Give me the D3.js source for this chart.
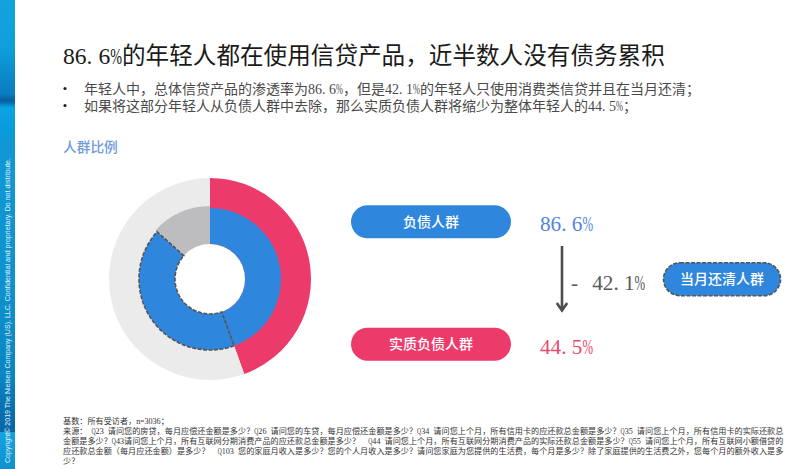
<!DOCTYPE html>
<html>
<head>
<meta charset="utf-8">
<script src="https://cdn.jsdelivr.net/npm/d3@7"></script>
<style>
  html, body { margin: 0; padding: 0; background: #fff; }
  text { font-family: "Noto Sans CJK SC", sans-serif; white-space: pre; }
</style>
</head>
<body>
<svg id="chart" width="796" height="469"></svg>
<script>
const title = "86.6%的年轻人都在使用信贷产品，近半数人没有债务累积";
const bullets = [
  "年轻人中，总体信贷产品的渗透率为86.6%，但是42.1%的年轻人只使用消费类信贷并且在当月还清；",
  "如果将这部分年轻人从负债人群中去除，那么实质负债人群将缩少为整体年轻人的44.5%；"
];
const sectionLabel = "人群比例";
const sidebarText = "Copyright© 2019 The Nielsen Company (US), LLC. Confidential and proprietary. Do not distribute.";
const footnotes = [
  "基数：所有受访者，n=3036；",
  "来源： Q23 请问您的房贷，每月应偿还金额是多少？Q26 请问您的车贷，每月应偿还金额是多少？Q34 请问您上个月，所有信用卡的应还款总金额是多少？Q35 请问您上个月，所有信用卡的实际还款总",
  "金额是多少？Q43请问您上个月，所有互联网分期消费产品的应还款总金额是多少？  Q44 请问您上个月，所有互联网分期消费产品的实际还款总金额是多少？Q55 请问您上个月，所有互联网小额借贷的",
  "应还款总金额（每月应还金额）是多少？  Q103 您的家庭月收入是多少？您的个人月收入是多少？请问您家庭为您提供的生活费，每个月是多少？除了家庭提供的生活费之外，您每个月的额外收入是多",
  "少？"
];

const outerValues = [44.5, 55.5];
const innerValues = [86.6, 13.4];
const dashedValues = [44.5, 42.1];
const debtLabel = "负债人群";
const debtValue = "86.6%";
const realLabel = "实质负债人群";
const realValue = "44.5%";
const paidLabel = "当月还清人群";
const paidValue = "- 42.1%";
const stripStops = [
  [0, "#12a2dc"], [0.1, "#0f9fdc"], [0.2, "#0a7cc0"], [0.215, "#075f9e"], [0.23, "#0ba4e4"],
  [0.28, "#0a9ada"], [0.3, "#1198d4"], [0.6, "#0e92cd"], [0.8, "#0a86c2"], [0.9, "#0869aa"],
  [0.921, "#0866a8"], [0.922, "#14a2de"], [1, "#0f90ce"]
];

const blue = "#2f86dd";
const pink = "#ec3b6b";
const svg = d3.select("#chart");

// draws text on the half/full width grid of the original font
function gridText(x, y, size, fill, str) {
  const t = svg.append("text").attr("y", y).attr("font-size", size).attr("fill", fill);
  let pos = x;
  const runs = [];
  for (const ch of str) {
    const half = ch.charCodeAt(0) < 128;
    const font = !half ? "cjk" : /[A-Za-z%=]/.test(ch) ? "wide" : "serif";
    const last = runs[runs.length - 1];
    // wide glyphs get squeezed one by one into their half width cell
    if (!last || last.font !== font || font === "wide") runs.push({ font, chars: "", xs: [] });
    const run = runs[runs.length - 1];
    run.chars += ch;
    run.xs.push(pos.toFixed(2));
    pos += half ? size / 2 : size;
  }
  runs.forEach((r) => {
    const span = t.append("tspan")
      .attr("x", r.xs.join(" "))
      .style("font-family", r.font === "cjk" ? '"Noto Sans CJK SC"' : '"Liberation Serif"')
      .text(r.chars);
    if (r.font === "wide") span.attr("textLength", size / 2).attr("lengthAdjust", "spacingAndGlyphs");
  });
  return t;
}

// left strip
const defs = svg.append("defs");
const grad = defs.append("linearGradient").attr("id", "strip").attr("x1", 0).attr("x2", 0).attr("y1", 0).attr("y2", 1);
stripStops.forEach(([o, c]) => grad.append("stop").attr("offset", o).attr("stop-color", c));
svg.append("rect").attr("width", 15).attr("height", 469).attr("fill", "url(#strip)");
svg.append("text")
  .attr("transform", "translate(9.5,463) rotate(-90)")
  .attr("font-size", 7.05)
  .attr("fill", "#e2f3fb")
  .style("font-family", "Liberation Sans")
  .text(sidebarText);

gridText(63, 64, 23.6, "#1a1a1a", title);

bullets.forEach((b, i) => {
  const y = 93.5 + i * 17;
  svg.append("circle").attr("cx", 65).attr("cy", y - 5).attr("r", 1.6).attr("fill", "#222");
  gridText(84, y, 14, "#4a4a4a", b);
});

svg.append("text")
  .attr("x", 63).attr("y", 151.5)
  .attr("font-size", 13.7)
  .attr("font-weight", 500)
  .attr("fill", "#6f9ae0")
  .text(sectionLabel);

// donut
const donut = svg.append("g").attr("transform", "translate(210,279)");
const pie = d3.pie().sort(null);
const outerArc = d3.arc().innerRadius(0).outerRadius(101);
const innerRadius = [71, 73];

donut.selectAll("path.outer")
  .data(pie(outerValues))
  .join("path")
  .attr("class", "outer")
  .attr("d", outerArc)
  .attr("fill", (d, i) => [pink, "#ebebeb"][i]);

donut.selectAll("path.inner")
  .data(pie(innerValues))
  .join("path")
  .attr("class", "inner")
  .attr("d", (d, i) => d3.arc().innerRadius(35).outerRadius(innerRadius[i])(d))
  .attr("fill", (d, i) => [blue, "#bdbdbf"][i]);

donut.append("circle").attr("r", 35).attr("fill", "#fff");

// dashed outline of the part paid off in the same month
const total = d3.sum(outerValues);
const angle = d3.scaleLinear().domain([0, total]).range([0, 2 * Math.PI]);
donut.append("path")
  .attr("d", d3.arc().innerRadius(35).outerRadius(71)({
    startAngle: angle(dashedValues[0]),
    endAngle: angle(dashedValues[0] + dashedValues[1])
  }))
  .attr("fill", "none")
  .attr("stroke", "#555")
  .attr("stroke-width", 1.6)
  .attr("stroke-dasharray", "4 1.5");

function pill(x, y, w, h, fill, label, dashed) {
  const r = svg.append("rect")
    .attr("x", x).attr("y", y).attr("width", w).attr("height", h)
    .attr("rx", h / 2).attr("fill", fill);
  if (dashed) r.attr("stroke", "#555").attr("stroke-width", 1.6).attr("stroke-dasharray", "4 1.5");
  svg.append("text")
    .attr("x", x + w / 2).attr("y", y + h / 2 + 5)
    .attr("text-anchor", "middle")
    .attr("font-size", 14)
    .attr("font-weight", 500)
    .attr("fill", "#fff")
    .text(label);
}

pill(351, 205.3, 160, 33, blue, debtLabel);
pill(351, 327.7, 160, 33, pink, realLabel);
pill(663.5, 262.7, 117, 33, blue, paidLabel, true);

gridText(540, 231.3, 21.2, "#4f86dc", debtValue);
gridText(540, 354, 21.2, "#e94a70", realValue);
gridText(571, 290, 21.2, "#595959", paidValue);

// arrow
svg.append("path")
  .attr("d", "M562,246V310.5M556.8,303L562,310.5L567.2,303")
  .attr("fill", "none")
  .attr("stroke", "#4d4d4d")
  .attr("stroke-width", 2.6);

footnotes.forEach((f, i) => {
  gridText(63, 424 + i * 10, 8.14, "#333", f);
});
</script>
</body>
</html>
